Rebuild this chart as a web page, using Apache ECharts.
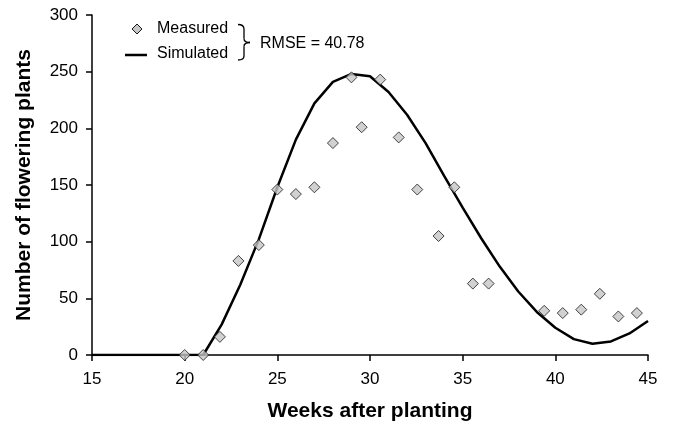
<!DOCTYPE html>
<html>
<head>
<meta charset="utf-8">
<script src="https://cdn.jsdelivr.net/npm/echarts@6/dist/echarts.min.js"></script>
<style>
  html, body { margin: 0; padding: 0; background: #fff; }
  #main { width: 673px; height: 424px; }
</style>
</head>
<body>
<div id="main"></div>
<script>
// simulated curve, one value per week
const simWeeks = [15, 16, 17, 18, 19, 20, 21, 22, 23, 24, 25, 26, 27, 28, 29, 30,
  31, 32, 33, 34, 35, 36, 37, 38, 39, 40, 41, 42, 43, 44, 45]
const simPlants = [0, 0, 0, 0, 0, 0, 0, 27, 62, 102, 148, 190, 222, 241, 248, 246,
  232, 212, 187, 158, 130, 103, 78, 56, 38, 24, 14, 10, 12, 19, 30]

// measured counts
const measWeeks = [20, 21, 21.9, 22.9, 24, 25, 26, 27, 28, 29, 29.55, 30.55, 31.55,
  32.55, 33.7, 34.55, 35.55, 36.4, 39.4, 40.4, 41.4, 42.4, 43.4, 44.4]
const measPlants = [0, 0, 16, 83, 97, 146, 142, 148, 187, 245, 201, 243, 192,
  146, 105, 148, 63, 63, 39, 37, 40, 54, 34, 37]

const rmseText = 'RMSE = 40.78'

const FONT = "'Liberation Sans', Arial, sans-serif"
const MARKER_FILL = '#c6c6c6'
const MARKER_EDGE = '#1a1a1a'

const chartDom = document.getElementById('main')
const myChart = echarts.init(chartDom)

const axisCommon = {
  axisLine: { show: true, lineStyle: { color: '#000', width: 1.5 } },
  axisTick: { show: true, inside: false, length: 6, lineStyle: { color: '#000', width: 1.5 } },
  splitLine: { show: false },
  nameLocation: 'middle',
  nameTextStyle: { color: '#000', fontSize: 21, fontWeight: 'bold', fontFamily: FONT }
}

const stroke = { stroke: '#000', fill: 'none', lineWidth: 1.3 }

const option = {
  animation: false,
  backgroundColor: '#fff',
  // v6 shrinks the grid to keep names inside by default, switch that off
  grid: { left: 92, right: 25, top: 15, bottom: 69, outerBoundsMode: 'none' },
  xAxis: {
    ...axisCommon,
    type: 'value',
    min: 15,
    max: 45,
    interval: 5,
    axisLabel: { color: '#000', fontSize: 17, fontFamily: FONT, margin: 16 },
    name: 'Weeks after planting',
    nameGap: 46
  },
  yAxis: {
    ...axisCommon,
    type: 'value',
    min: 0,
    max: 300,
    interval: 50,
    axisLabel: { color: '#000', fontSize: 17, fontFamily: FONT, margin: 14 },
    name: 'Number of flowering plants',
    nameGap: 57
  },
  graphic: [
    // legend: measured marker + label
    {
      type: 'polygon',
      shape: { points: [[137, 24], [142, 29], [137, 34], [132, 29]] },
      style: { fill: MARKER_FILL, stroke: MARKER_EDGE, lineWidth: 1 }
    },
    {
      type: 'text', x: 157, y: 29,
      style: { text: 'Measured', fill: '#000', fontSize: 16, fontFamily: FONT, verticalAlign: 'middle' }
    },
    // legend: simulated line + label
    { type: 'line', shape: { x1: 125, y1: 55, x2: 147, y2: 55 }, style: { stroke: '#000', lineWidth: 2.5 } },
    {
      type: 'text', x: 157, y: 53.5,
      style: { text: 'Simulated', fill: '#000', fontSize: 16, fontFamily: FONT, verticalAlign: 'middle' }
    },
    // brace
    { type: 'bezierCurve', shape: { x1: 238, y1: 24.5, x2: 244, y2: 29, cpx1: 242, cpy1: 24.5, cpx2: 244, cpy2: 26 }, style: stroke },
    { type: 'line', shape: { x1: 244, y1: 29, x2: 244, y2: 38.5 }, style: stroke },
    { type: 'bezierCurve', shape: { x1: 244, y1: 38.5, x2: 250, y2: 42.5, cpx1: 244, cpy1: 41.5, cpx2: 247, cpy2: 42.5 }, style: stroke },
    { type: 'bezierCurve', shape: { x1: 250, y1: 42.5, x2: 244, y2: 46.5, cpx1: 247, cpy1: 42.5, cpx2: 244, cpy2: 43.5 }, style: stroke },
    { type: 'line', shape: { x1: 244, y1: 46.5, x2: 244, y2: 56 }, style: stroke },
    { type: 'bezierCurve', shape: { x1: 244, y1: 56, x2: 238, y2: 60, cpx1: 244, cpy1: 59, cpx2: 242, cpy2: 60 }, style: stroke },
    {
      type: 'text', x: 260, y: 44,
      style: { text: rmseText, fill: '#000', fontSize: 16, fontFamily: FONT, verticalAlign: 'middle' }
    }
  ],
  series: [
    {
      name: 'Simulated',
      type: 'line',
      data: simWeeks.map((w, i) => [w, simPlants[i]]),
      symbol: 'none',
      smooth: false,
      z: 2,
      lineStyle: { color: '#000', width: 2.5 },
      itemStyle: { color: '#000' }
    },
    {
      name: 'Measured',
      type: 'scatter',
      data: measWeeks.map((w, i) => [w, measPlants[i]]),
      symbol: 'diamond',
      symbolSize: 11,
      z: 3,
      itemStyle: { color: MARKER_FILL, borderColor: MARKER_EDGE, borderWidth: 1 }
    }
  ]
}

option && myChart.setOption(option)
</script>
</body>
</html>
